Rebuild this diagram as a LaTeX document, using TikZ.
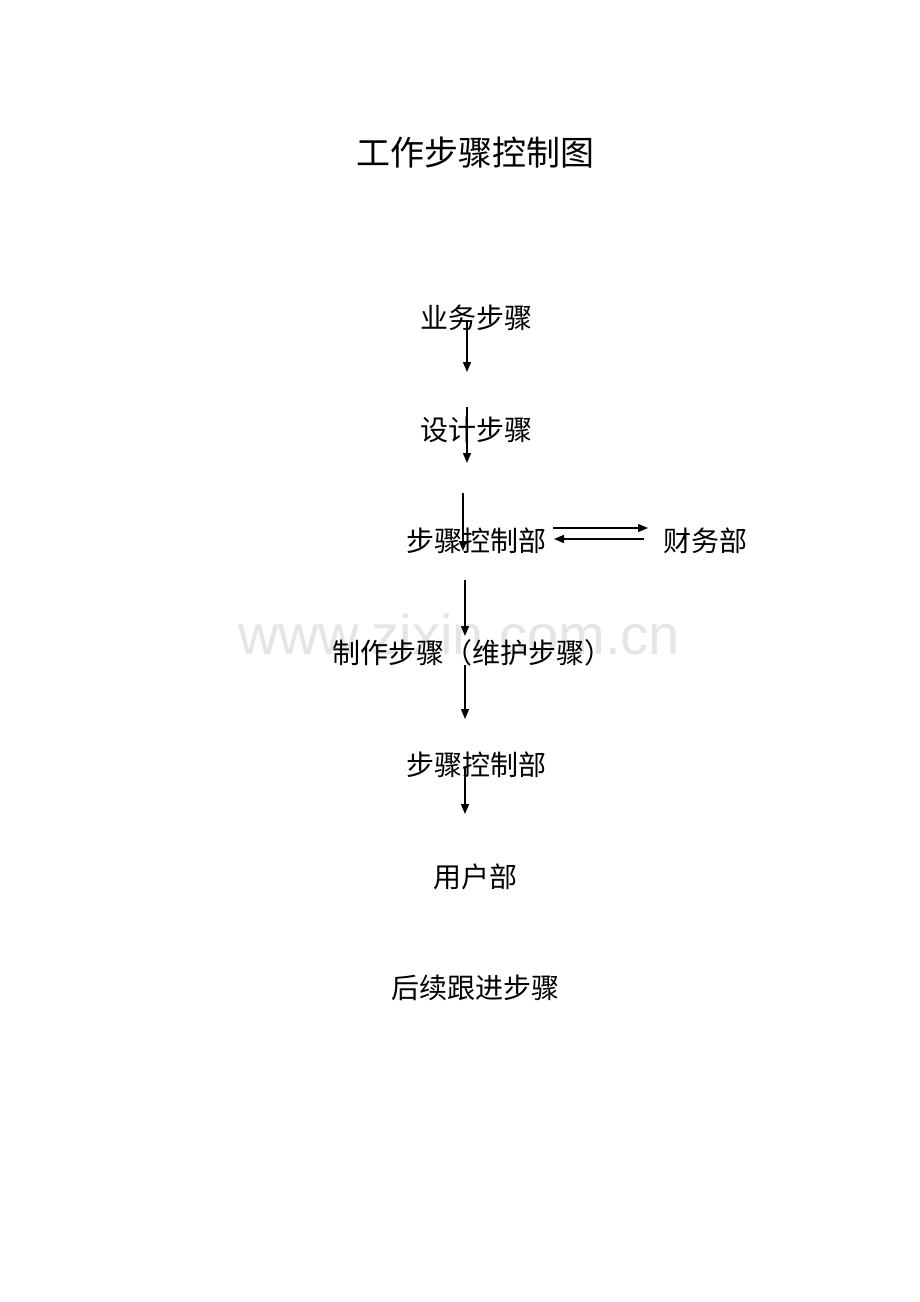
\documentclass[tikz,border=0pt]{standalone}
\usepackage{fontspec}
\newfontfamily\cjk{Noto Sans CJK SC}
\newfontfamily\wmfont{Liberation Sans}
\usetikzlibrary{arrows.meta}
\tikzset{
  lbl/.style={font=\cjk\fontsize{28}{31}\selectfont, inner sep=0pt, anchor=center},
  ttl/.style={font=\cjk\fontsize{34}{37}\selectfont, inner sep=0pt, anchor=center},
  arr/.style={line width=1.4pt, -{Triangle[length=10pt,width=8pt]}},
}
\begin{document}
\begin{tikzpicture}[x=1pt,y=-1pt]
\useasboundingbox[fill=white] (0,0) rectangle (920,1302);
% watermark
\node[font=\wmfont\fontsize{56}{62}\selectfont, text=black!10, inner sep=0pt] (wm) at (459,634) {www.zixin.com.cn};
\node[ttl] (title) at (475,153) {工作步骤控制图};
\node[lbl] (n1) at (476,318) {业务步骤};
\node[lbl] (n2) at (476,430) {设计步骤};
\node[lbl] (n3) at (476,541) {步骤控制部};
\node[lbl] (fin) at (705,541) {财务部};
\node[lbl] (n4) at (472,653) {制作步骤（维护步骤）};
\node[lbl] (n5) at (476,765) {步骤控制部};
\node[lbl] (n6) at (475,877) {用户部};
\node[lbl] (n7) at (475,988) {后续跟进步骤};
% arrow end points
\coordinate (a1s) at (467,320); \coordinate (a1e) at (467,372);
\coordinate (a2s) at (467,407); \coordinate (a2e) at (467,463);
\coordinate (a3s) at (463,493); \coordinate (a3e) at (463,551);
\coordinate (a4s) at (465,580); \coordinate (a4e) at (465,636);
\coordinate (a5s) at (465,665); \coordinate (a5e) at (465,719);
\coordinate (a6s) at (465,767); \coordinate (a6e) at (465,814);
\coordinate (h1s) at (553,528); \coordinate (h1e) at (648,528);
\coordinate (h2s) at (644,539); \coordinate (h2e) at (554,539);
\draw[arr] (a1s) -- (a1e);
\draw[arr] (a2s) -- (a2e);
\draw[arr] (a3s) -- (a3e);
\draw[arr] (a4s) -- (a4e);
\draw[arr] (a5s) -- (a5e);
\draw[arr] (a6s) -- (a6e);
\draw[arr] (h1s) -- (h1e);
\draw[arr] (h2s) -- (h2e);
\end{tikzpicture}
\end{document}
